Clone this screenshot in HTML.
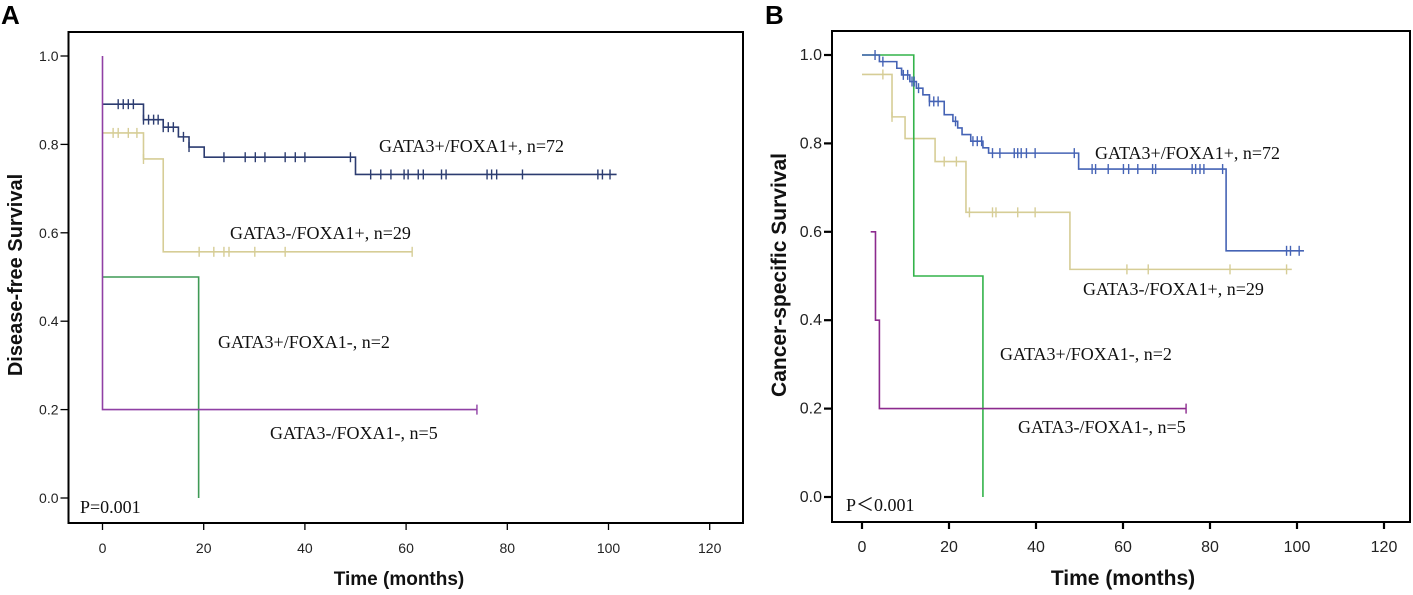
<!DOCTYPE html>
<html><head><meta charset="utf-8"><style>
html,body{margin:0;padding:0;background:#fff;}
svg{display:block;}
.tk{font-family:"Liberation Sans",sans-serif;fill:#222;}
.lab{font-family:"Liberation Serif",serif;font-size:18px;fill:#111;}
.ttl{font-family:"Liberation Sans",sans-serif;font-weight:bold;fill:#111;}
.pl{font-family:"Liberation Sans",sans-serif;font-weight:bold;font-size:26px;fill:#000;}
</style></head><body>
<svg id="chart" width="1413" height="595" viewBox="0 0 1413 595" xmlns="http://www.w3.org/2000/svg"></svg>
<script>
// ---- Panel A data (Disease-free survival) ----
const xTicks = [0,20,40,60,80,100,120];
const yTicks = [0.0,0.2,0.4,0.6,0.8,1.0];
const aNavySteps = [[0,0.891],[8.1,0.856],[12,0.839],[15,0.817],[17.1,0.794],[20.1,0.771],[50,0.732]];
const aNavyEnd = 101.6;
const aNavyCens = [3.1,4.1,5.1,6.1,8.1,9.1,10.1,11,12,13,14,16,17.1,24,28.2,30.2,32.1,36.1,38.1,40,49,53,55,57,59.6,60.4,62.4,63.4,67,67.9,76,76.9,77.9,83,97.9,98.8,100.3];
const aTanSteps = [[0,0.826],[8.1,0.767],[12,0.557]];
const aTanEnd = 61.2;
const aTanCens = [2.1,3.1,5.1,6.8,8.1,19.1,22,24,25,30.1,36.1,61.2];
const aGreenSteps = [[0,0.5],[19,0.0]];
const aGreenEnd = 19;
const aGreenCens = [];
const aPurpleSteps = [[0,1.0],[0,0.2]];
const aPurpleEnd = 74;
const aPurpleCens = [74];
// ---- Panel B data (Cancer-specific survival) ----
const bBlueSteps = [[0,1.0],[4,0.985],[8,0.97],[9.1,0.955],[11,0.94],[12.5,0.925],[14,0.91],[15.5,0.895],[18.9,0.865],[20.9,0.85],[22,0.835],[23,0.82],[25,0.805],[27.8,0.79],[29.1,0.778],[49.8,0.742],[83.7,0.557]];
const bBlueEnd = 101.6;
const bBlueCens = [3,4.8,9.5,10.5,11.5,12,13,15.5,16.5,17.5,21.5,25.5,26.5,27.5,30,31.7,35,35.8,36.6,37.8,39.8,48.8,52.9,53.7,56.6,60.1,61.3,63.4,66.8,67.5,75.9,76.7,77.7,78.6,82.9,97.6,98.5,100.5];
const bTanSteps = [[0,0.956],[6.9,0.86],[9.9,0.811],[16.8,0.759],[23.9,0.644],[47.8,0.515]];
const bTanEnd = 98.8;
const bTanCens = [4.8,6.9,18.9,21.7,24.7,30,30.8,35.8,39.8,60.9,65.8,84.6,97.6];
const bGreenSteps = [[0,1.0],[11.9,0.5],[27.8,0.0]];
const bGreenEnd = 27.8;
const bGreenCens = [];
const bPurpleSteps = [[2,0.6],[3.1,0.4],[4,0.2]];
const bPurpleEnd = 74.5;
const bPurpleCens = [74.5];

const NS="http://www.w3.org/2000/svg";
const svg=document.getElementById('chart');
function mk(tag,attrs,parent){const e=document.createElementNS(NS,tag);for(const k in attrs)e.setAttribute(k,attrs[k]);(parent||svg).appendChild(e);return e;}
function txt(s,attrs,parent){const e=mk('text',attrs,parent);e.textContent=s;return e;}

function panel(cfg){
  const g=mk('g',{});
  
  
  const X=t=>cfg.x0+t*cfg.kx;
  const Y=v=>cfg.y0-v*cfg.ky;
  const fr=mk('rect',{x:cfg.fl,y:cfg.ft,width:cfg.fr-cfg.fl,height:cfg.fb-cfg.ft,fill:'none',stroke:'#000','stroke-width':2},g);
  
  
  xTicks.forEach(t=>{
    const l=mk('line',{x1:X(t),x2:X(t),y1:cfg.fb,y2:cfg.fb+7,stroke:'#000','stroke-width':cfg.tw},g);
    
    
    const s=txt(String(t),{x:X(t),y:cfg.fb+30,'text-anchor':'middle',class:'tk','font-size':cfg.tfs},g);
    
    
  });
  yTicks.forEach(v=>{
    const l=mk('line',{x1:cfg.fl-8,x2:cfg.fl,y1:Y(v),y2:Y(v),stroke:'#000','stroke-width':cfg.tw},g);
    
    
    const s=txt(v.toFixed(1),{x:cfg.fl-10,y:Y(v)+5,'text-anchor':'end',class:'tk','font-size':cfg.tfs},g);
    
    
  });
  cfg.series.forEach(se=>{
    let d='';
    se.steps.forEach((p,i)=>{
      if(i===0)d+='M'+X(p[0])+' '+Y(p[1]);
      else{d+=' H'+X(p[0])+' V'+Y(p[1]);}
    });
    d+=' H'+X(se.end);
    const sg=mk('g',{},g);
    
    
    const p=mk('path',{d:d,fill:'none',stroke:se.color,'stroke-width':1.6},sg);
    
    
    se.cens.forEach(t=>{
      let v=se.steps[0][1];
      se.steps.forEach(s=>{if(s[0]<=t)v=s[1];});
      const c=mk('line',{x1:X(t),x2:X(t),y1:Y(v)-5,y2:Y(v)+5,stroke:se.color,'stroke-width':1.4},sg);
      
      
    });
  });
  cfg.labels.forEach(L=>{
    const s=txt(L[0],{x:L[1],y:L[2],class:'lab'},g);
    
    
  });
  const yt=txt(cfg.ytitle,{x:0,y:0,class:'ttl','font-size':cfg.yfs,'text-anchor':'middle',transform:'translate('+cfg.ytx+',275) rotate(-90)'},g);
  
  
  const xt=txt('Time (months)',{x:cfg.xtx,y:585,class:'ttl','font-size':cfg.xfs,'text-anchor':'middle'},g);
  
  
  const pl=txt(cfg.letter,{x:cfg.lx,y:24,class:'pl'},g);
  
  
}

panel({name:'panel-a-disease-free',letter:'A',lx:1,x0:102.5,kx:5.06,y0:498,ky:442,fl:68.5,fr:743,ft:32,fb:523,tw:1.3,tfs:14,yfs:20,xfs:19,
  ytitle:'Disease-free Survival',ytx:22,xtx:399,
  series:[
    {name:'series-gata3-neg-foxa1-pos',color:'#d6cd96',steps:aTanSteps,end:aTanEnd,cens:aTanCens},
    {name:'series-gata3-pos-foxa1-pos',color:'#2c3c70',steps:aNavySteps,end:aNavyEnd,cens:aNavyCens},
    {name:'series-gata3-pos-foxa1-neg',color:'#3f9a55',steps:aGreenSteps,end:aGreenEnd,cens:aGreenCens},
    {name:'series-gata3-neg-foxa1-neg',color:'#9040a5',steps:aPurpleSteps,end:aPurpleEnd,cens:aPurpleCens}],
  labels:[['GATA3+/FOXA1+, n=72',379,152,'label-gata3-pos-foxa1-pos'],['GATA3-/FOXA1+, n=29',230,239,'label-gata3-neg-foxa1-pos'],
    ['GATA3+/FOXA1-, n=2',218,348,'label-gata3-pos-foxa1-neg'],['GATA3-/FOXA1-, n=5',270,439,'label-gata3-neg-foxa1-neg'],['P=0.001',80,513,'p-value']]
});
panel({name:'panel-b-cancer-specific',letter:'B',lx:765,x0:862,kx:4.35,y0:497,ky:442,fl:832,fr:1410,ft:31,fb:522,tw:2.2,tfs:16,yfs:21,xfs:21,
  ytitle:'Cancer-specific Survival',ytx:786,xtx:1123,
  series:[
    {name:'series-gata3-neg-foxa1-pos',color:'#d6cd96',steps:bTanSteps,end:bTanEnd,cens:bTanCens},
    {name:'series-gata3-pos-foxa1-neg',color:'#33b34a',steps:bGreenSteps,end:bGreenEnd,cens:bGreenCens},
    {name:'series-gata3-pos-foxa1-pos',color:'#4563b5',steps:bBlueSteps,end:bBlueEnd,cens:bBlueCens},
    {name:'series-gata3-neg-foxa1-neg',color:'#8c2a8e',steps:bPurpleSteps,end:bPurpleEnd,cens:bPurpleCens}],
  labels:[['GATA3+/FOXA1+, n=72',1095,159,'label-gata3-pos-foxa1-pos'],['GATA3-/FOXA1+, n=29',1083,295,'label-gata3-neg-foxa1-pos'],
    ['GATA3+/FOXA1-, n=2',1000,360,'label-gata3-pos-foxa1-neg'],['GATA3-/FOXA1-, n=5',1018,433,'label-gata3-neg-foxa1-neg'],['P＜0.001',846,511,'p-value']]
});
</script>
</body></html>
